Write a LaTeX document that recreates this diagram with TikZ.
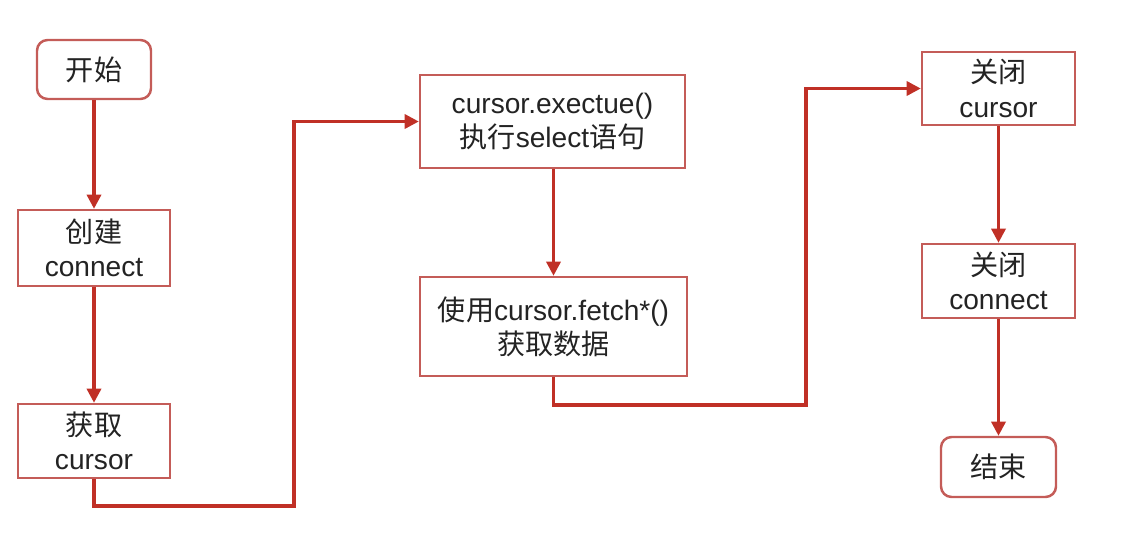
\documentclass[tikz,border=0pt]{standalone}
\usepackage{fontspec}
\setmainfont{Liberation Sans}
\newfontfamily\cjk{Noto Sans CJK SC}
\usetikzlibrary{arrows.meta}
\definecolor{boxred}{RGB}{196,92,88}
\definecolor{arrred}{RGB}{192,48,38}
\definecolor{txt}{RGB}{35,35,35}
\begin{document}
\begin{tikzpicture}[x=0.02cm,y=-0.02cm,
  box/.style={draw=boxred,line width=1.4pt,fill=white,text=txt,align=center,
    inner sep=0pt,font=\fontsize{16pt}{19.5pt}\selectfont},
  term/.style={box,rounded corners=6pt},
  flow/.style={draw=arrred,line width=1.8pt,-{Triangle[length=8pt,width=8pt]}}]
\useasboundingbox (0,0) rectangle (1139,551);
\node[term,minimum width=114*0.02cm,minimum height=59*0.02cm] (start) at (94,69.5) {{\cjk 开始}};
\node[box,minimum width=152*0.02cm,minimum height=76*0.02cm] (conn) at (94,248) {{\cjk 创建}\\connect};
\node[box,minimum width=152*0.02cm,minimum height=74*0.02cm] (cur) at (94,441) {{\cjk 获取}\\cursor};
\node[box,minimum width=265*0.02cm,minimum height=93*0.02cm] (exec) at (552.5,121.5) {cursor.exectue()\\{\cjk 执行}select{\cjk 语句}};
\node[box,minimum width=267*0.02cm,minimum height=99*0.02cm] (fetch) at (553.5,326.5) {{\cjk 使用}cursor.fetch*()\\{\cjk 获取数据}};
\node[box,minimum width=153*0.02cm,minimum height=73*0.02cm] (ccur) at (998.5,88.5) {{\cjk 关闭}\\cursor};
\node[box,minimum width=153*0.02cm,minimum height=74*0.02cm] (cconn) at (998.5,281) {{\cjk 关闭}\\connect};
\node[term,minimum width=115*0.02cm,minimum height=60*0.02cm] (end) at (998.5,467) {{\cjk 结束}};
\coordinate (b1) at (294,506);
\coordinate (b2) at (806,405);
\draw[flow] (start.south) -- (start.south |- conn.north);
\draw[flow] (conn.south) -- (conn.south |- cur.north);
\draw[flow] (cur.south) |- (b1) |- (exec.west);
\draw[flow] (exec.south -| fetch.north) -- (fetch.north);
\draw[flow] (fetch.south) |- (b2) |- (ccur.west);
\draw[flow] (ccur.south) -- (ccur.south |- cconn.north);
\draw[flow] (cconn.south) -- (cconn.south |- end.north);
\end{tikzpicture}
\end{document}
